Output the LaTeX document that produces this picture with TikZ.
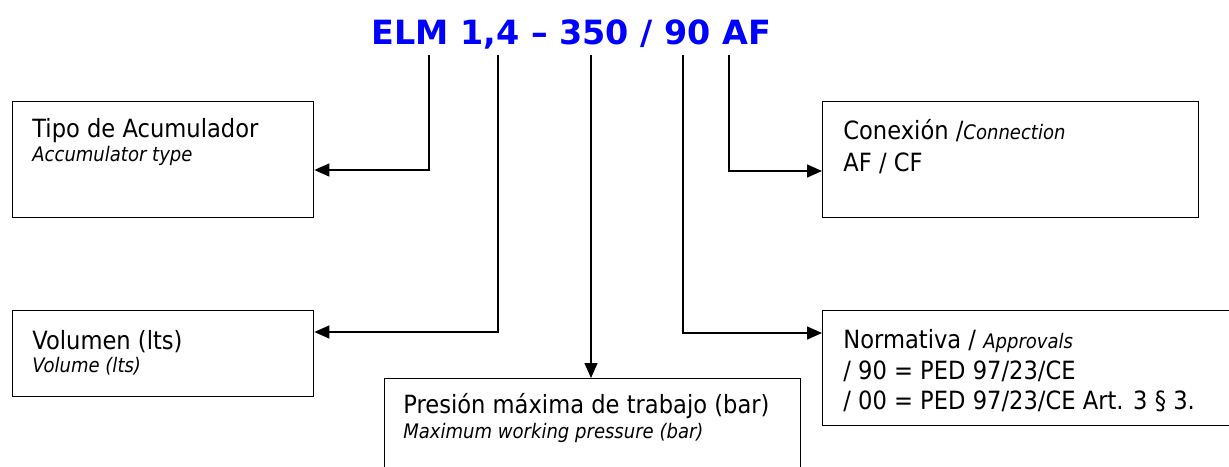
\documentclass[tikz,border=0pt]{standalone}
\usepackage{fontspec}
\setmainfont{DejaVu Sans}[FakeStretch=0.9]
\newfontfamily\codefont{DejaVu Sans}
\usetikzlibrary{arrows.meta}
\definecolor{codeblue}{RGB}{0,0,255}
\begin{document}
\begin{tikzpicture}[x=0.02cm, y=-0.02cm,
    box/.style={draw, line width=0.8pt, anchor=north west, inner sep=0pt},
    es/.style={anchor=base west, inner sep=0pt, font=\fontsize{14.3}{17}\selectfont},
    en/.style={anchor=base west, inner sep=0pt, font=\fontsize{11.4}{13}\selectfont\itshape},
    link/.style={line width=0.8pt, -{Triangle[length=0.3cm, width=0.26cm]}}]
  \useasboundingbox (0,0) rectangle (1229,466);
  \node[anchor=base west, inner sep=0pt, text=codeblue,
    font=\codefont\bfseries\fontsize{19}{22}\selectfont] (code) at (371,45)
    {ELM 1,4 – 350 / 90 AF};
  \coordinate (k-tipo) at (429,55);
  \coordinate (k-vol) at (498,55);
  \coordinate (k-pres) at (591,55);
  \coordinate (k-norm) at (683,55);
  \coordinate (k-con) at (729,55);
  \node[box, minimum width=6.02cm, minimum height=2.32cm] (tipo) at (12,101) {};
  \node[box, minimum width=6.02cm, minimum height=1.72cm] (vol) at (12,310) {};
  \node[box, minimum width=8.32cm, minimum height=2.1cm] (pres) at (384,378) {};
  \node[box, minimum width=7.52cm, minimum height=2.32cm] (con) at (822,101) {};
  \node[box, minimum width=8.6cm, minimum height=2.3cm] (norm) at (822,310) {};
  \node[es] (tipo-es) at (32,137) {Tipo de Acumulador};
  \node[en] (tipo-en) at (32,161) {Accumulator type};
  \node[es] (vol-es) at (32,349) {Volumen (lts)};
  \node[en] (vol-en) at (32,372) {Volume (lts)};
  \node[es] (pres-es) at (403,413) {Presión máxima de trabajo (bar)};
  \node[en] (pres-en) at (403,438) {Maximum working pressure (bar)};
  \node[es] (con-es) at (843,139) {Conexión /{\fontsize{11.4}{13}\selectfont\itshape Connection}};
  \node[es] (con-af) at (843,171) {AF / CF};
  \node[es] (norm-es) at (843,348) {Normativa / {\fontsize{11.4}{13}\selectfont\itshape Approvals}};
  \node[es] (norm-90) at (843,379) {/ 90 = PED 97/23/CE};
  \node[es] (norm-00) at (843,409) {/ 00 = PED 97/23/CE Art. 3 § 3.};
  \draw[link] (k-tipo) |- (tipo.east |- 0,170);
  \draw[link] (k-vol) |- (vol.east |- 0,332);
  \draw[link] (k-pres) -- (k-pres |- pres.north);
  \draw[link] (k-norm) |- (norm.west |- 0,333);
  \draw[link] (k-con) |- (con.west |- 0,171);
\end{tikzpicture}
\end{document}
